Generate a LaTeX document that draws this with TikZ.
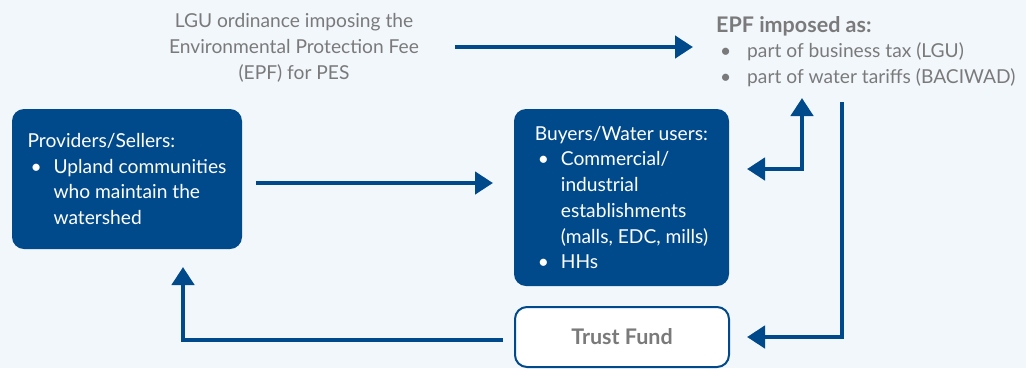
\documentclass[tikz,border=0pt]{standalone}
\usepackage{fontspec}
\setmainfont{Lato}
\usetikzlibrary{arrows.meta}
\definecolor{bg}{HTML}{F2F7FC}
\definecolor{navy}{HTML}{004A8C}
\definecolor{txtgray}{HTML}{7A7A7A}
\begin{document}
\begin{tikzpicture}[x=1pt,y=-1pt,
  conn/.style={draw=navy, line width=4.5pt, -{Triangle[length=18pt,width=22pt]}},
  bothconn/.style={draw=navy, line width=4.5pt, {Triangle[length=18pt,width=22pt]}-{Triangle[length=18pt,width=22pt]}},
  bluebox/.style={fill=navy, rounded corners=12pt, text=white, align=left, font=\fontsize{19.2}{25.7}\selectfont},
  whitebox/.style={fill=white, draw=navy, line width=2pt, rounded corners=12pt},
  graytext/.style={text=txtgray, font=\fontsize{19.2}{25.7}\selectfont}
]
\fill[bg] (0,0) rectangle (1026,368);
\useasboundingbox (0,0) rectangle (1026,368);

\newcommand{\bul}{\makebox[26pt][l]{\hspace{3pt}•}}
\newcommand{\ind}{\hspace*{26pt}}

\node[graytext, align=center] (lgu) at (294,48) {LGU ordinance imposing the\\Environmental Protection Fee\\(EPF) for PES};

\node[graytext, align=left, anchor=north west, inner sep=0pt] (epf) at (716,16)
  {{\fontsize{21.5}{25.7}\selectfont\bfseries EPF imposed as:}\\[0pt]
   \makebox[31pt][l]{\hspace{4pt}•}part of business tax (LGU)\\
   \makebox[31pt][l]{\hspace{4pt}•}part of water tariffs (BACIWAD)};

\node[bluebox, minimum width=230pt, minimum height=140pt] (prov) at (127,179)
  {Providers/Sellers:\\
   \bul Upland communities\\
   \ind who maintain the\\
   \ind watershed};

\node[bluebox, minimum width=215pt, minimum height=177pt] (buy) at (621.5,197.5)
  {Buyers/Water users:\\
   \bul Commercial/\\
   \ind industrial\\
   \ind establishments\\
   \ind (malls, EDC, mills)\\
   \bul HHs};

\node[whitebox, minimum width=214pt, minimum height=60pt, text=txtgray, font=\fontsize{21.5}{24}\selectfont\bfseries] (trust) at (622,337) {Trust Fund};

\coordinate (a1s) at (455,47);
\coordinate (a1e) at (693,47);
\coordinate (a2s) at (256,183);
\coordinate (a2e) at (493,183);
\coordinate (a3s) at (747,169);
\coordinate (a3e) at (802,98);
\coordinate (a4s) at (842,102);
\coordinate (a4e) at (747,337);
\coordinate (a5s) at (503,340);
\coordinate (a5e) at (183,267);

\draw[conn] (a1s) -- (a1e);
\draw[conn] (a2s) -- (a2e);
\draw[bothconn] (a3s) -| (a3e);
\draw[conn] (a4s) |- (a4e);
\draw[conn] (a5s) -| (a5e);
\end{tikzpicture}
\end{document}
